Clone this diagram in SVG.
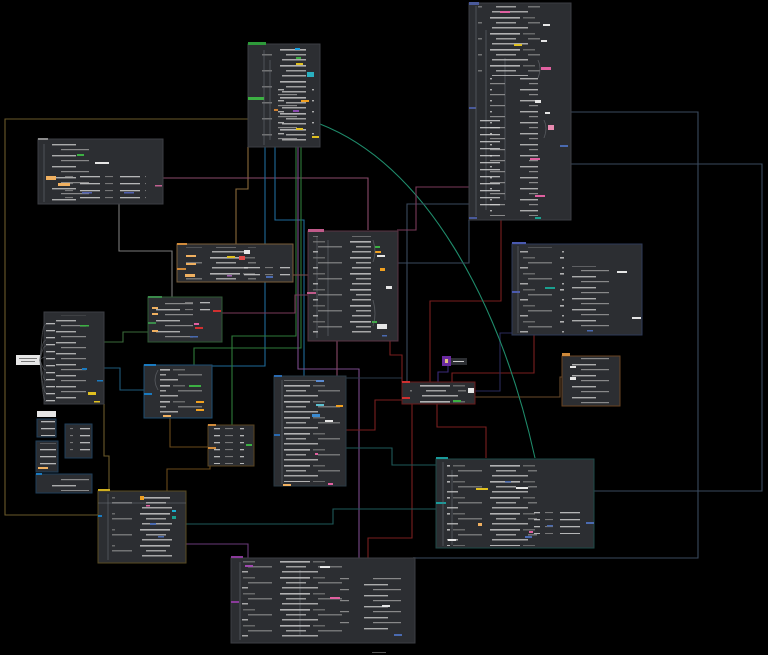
<svg xmlns="http://www.w3.org/2000/svg" width="768" height="655" viewBox="0 0 768 655">
<defs>
<pattern id="t1" patternUnits="userSpaceOnUse" width="70" height="16">
<rect x="0" y="1" width="30" height="1.6" fill="#d6d6d6"/>
<rect x="33" y="1.2" width="12" height="1.2" fill="#8a8a8a"/>
<rect x="6" y="6" width="20" height="1.5" fill="#bdbdbd"/>
<rect x="38" y="6.2" width="24" height="1.2" fill="#9c9c9c"/>
<rect x="2" y="11" width="36" height="1.5" fill="#c8c8c8"/>
</pattern>
<pattern id="t2" patternUnits="userSpaceOnUse" width="52" height="11">
<rect x="0" y="1" width="24" height="1.4" fill="#cfcfcf"/>
<rect x="9" y="6" width="28" height="1.2" fill="#a2a2a2"/>
</pattern>
<pattern id="t3" patternUnits="userSpaceOnUse" width="40" height="7">
<rect x="0" y="1" width="20" height="1.3" fill="#dcdcdc"/>
<rect x="25" y="1" width="8" height="1.1" fill="#8c8c8c"/>
</pattern>
</defs>
<style>
.pn{fill:#2c2e32;stroke:#3c3f44;stroke-width:1}
.c{fill:none;stroke-width:1.1}
.tx{opacity:.78}
.tr{stroke:#6a6d72;stroke-width:.6;fill:none}
.w{fill:#e6e6e6}
</style>
<rect width="768" height="655" fill="#000"/>

<g id="connectors">
<path class="c" stroke="#6b5a2a" d="M248,119 H5 V515 H98"/>
<path class="c" stroke="#8a6a3a" d="M248,147 V189 H236 V244"/>
<path class="c" stroke="#7a7a7a" d="M119,204 V251 H172 V297"/>
<path class="c" stroke="#8a4a6a" d="M163,178 H368 V230"/>
<path class="c" stroke="#8a4a6a" d="M162,170 V200"/>
<path class="c" stroke="#3a6a3a" d="M104,342 H123 V332 H148"/>
<path class="c" stroke="#1f5a7a" d="M104,368 H120 V390 H144"/>
<path class="c" stroke="#1f6a9a" d="M265,147 V366 H212"/>
<path class="c" stroke="#1f6a9a" d="M275,147 V220 H304 V376"/>
<path class="c" stroke="#2f7a3a" d="M296,147 V336 H232 V425"/>
<path class="c" stroke="#2f7a3a" d="M301,147 V348 H194 V365"/>
<path class="c" stroke="#7a4a8a" d="M298,147 V369 H359 V558"/>
<path class="c" stroke="#8a4a6a" d="M337,340 V376"/>
<path class="c" stroke="#7a1f1f" d="M412,404 V538 H368 V558"/>
<path class="c" stroke="#7a1f1f" d="M402,400 H375 V430 H346"/>
<path class="c" stroke="#7a1f1f" d="M390,340 V355 H402 V382"/>
<path class="c" stroke="#7a1f1f" d="M437,404 V427 H486 V458"/>
<path class="c" stroke="#7a1f1f" d="M452,382 V373 H534 V335"/>
<path class="c" stroke="#7a1f1f" d="M501,220 V301 H430 V382"/>
<path class="c" stroke="#2a2a5a" d="M512,333 H500 V391 H475"/>
<path class="c" stroke="#3a2a7a" d="M448,366 V372 H438 V382"/>
<path class="c" stroke="#6a4a2a" d="M475,397 H560 V377 H562"/>
<path class="c" stroke="#1f5a5a" d="M346,448 H392 V465 H436"/>
<path class="c" stroke="#1f5a5a" d="M186,524 H333 V509 H436"/>
<path class="c" stroke="#1f8a6a" d="M320,124 C425,165 500,300 535,458"/>
<path class="c" stroke="#3a4a5e" d="M571,112 H698 V558 H413"/>
<path class="c" stroke="#3a4a5e" d="M571,164 H762 V491 H594"/>
<path class="c" stroke="#3a4a5e" d="M469,204 H407 V382"/>
<path class="c" stroke="#3a4a5e" d="M398,263 H469 V220"/>
<path class="c" stroke="#7a3a5a" d="M469,187 H416 V230 H397"/>
<path class="c" stroke="#7a3a5a" d="M222,313 H295 V295 H308"/>
<path class="c" stroke="#7a4a4a" d="M293,275 H308"/>
<path class="c" stroke="#6a4a1a" d="M170,418 V447 H208"/>
<path class="c" stroke="#6a4a1a" d="M210,466 V469 H167 V491"/>
<path class="c" stroke="#6b5a2a" d="M104,404 V456 H109 V491"/>
<path class="c" stroke="#6a3a7a" d="M186,544 H248 V558"/>
<path class="c" stroke="#2a3a4a" d="M346,378 H402"/>
</g>

<g id="nodeA">
<rect class="pn" x="248" y="44" width="72" height="103"/>
<rect x="248" y="42" width="18" height="3" fill="#2e9a3a"/>
<rect class="tx" x="262" y="48" width="44" height="96" fill="url(#t1)"/>
<rect class="tx" x="278" y="86" width="36" height="56" fill="url(#t2)"/>
<path class="tr" d="M264,50 V145 M270,60 V140"/>
<rect x="248" y="97" width="16" height="3" fill="#3cb043"/>
<rect x="295" y="48" width="5" height="2" fill="#1aa0e0"/>
<rect x="296" y="57" width="5" height="2" fill="#3cb043"/>
<rect x="296" y="63" width="7" height="2" fill="#e0c020"/>
<rect x="307" y="72" width="7" height="5" fill="#2ab0c0"/>
<rect x="301" y="100" width="8" height="2" fill="#f0a020"/>
<rect x="274" y="109" width="4" height="2" fill="#d08030"/>
<rect x="293" y="110" width="6" height="2" fill="#8a4ab0"/>
<rect x="296" y="128" width="7" height="2" fill="#e0c020"/>
<rect x="312" y="136" width="7" height="2" fill="#e0c020"/>
</g>

<g id="nodeB">
<rect class="pn" x="469" y="3" width="102" height="217"/>
<rect x="469" y="2" width="10" height="3" fill="#4a5a9a"/>
<rect x="469" y="107" width="7" height="2" fill="#4a5a9a"/>
<rect x="469" y="217" width="8" height="2" fill="#4a5a9a"/>
<path class="tr" d="M476,6 V216 M486,30 V210 M505,58 V200"/>
<rect class="tx" x="478" y="6" width="62" height="70" fill="url(#t1)"/>
<rect class="tx" x="490" y="76" width="48" height="140" fill="url(#t2)"/>
<rect class="tx" x="480" y="120" width="24" height="90" fill="url(#t3)"/>
<rect x="500" y="11" width="10" height="2" fill="#e060a0"/>
<rect x="514" y="44" width="8" height="2" fill="#e0c020"/>
<rect x="541" y="67" width="10" height="3" fill="#e060a0"/>
<rect x="530" y="158" width="10" height="2" fill="#e060a0"/>
<rect x="535" y="195" width="10" height="2" fill="#e060a0"/>
<rect x="535" y="217" width="6" height="2" fill="#1aa090"/>
<rect x="548" y="125" width="6" height="5" fill="#e88ab0"/>
<rect class="w" x="543" y="24" width="7" height="2"/>
<rect class="w" x="541" y="40" width="6" height="2"/>
<rect class="w" x="535" y="100" width="6" height="3"/>
<rect class="w" x="545" y="112" width="5" height="2"/>
<rect x="560" y="145" width="8" height="2" fill="#4a6ab0"/>
<path class="tr" d="M538,60 Q542,68 538,78 M544,120 Q548,128 544,138"/>
</g>

<g id="nodeC">
<rect class="pn" x="38" y="139" width="125" height="65"/>
<rect x="38" y="138" width="10" height="2" fill="#8a8a8a"/>
<path class="tr" d="M44,144 V202"/>
<rect class="tx" x="46" y="142" width="50" height="60" fill="url(#t2)"/>
<rect class="tx" x="60" y="176" width="86" height="24" fill="url(#t3)"/>
<rect x="77" y="154" width="7" height="2" fill="#3cb043"/>
<rect x="46" y="176" width="10" height="4" fill="#f0b060"/>
<rect x="58" y="183" width="12" height="3" fill="#f0b060"/>
<rect x="82" y="192" width="10" height="1.5" fill="#5060b0"/>
<rect x="124" y="192" width="10" height="1.5" fill="#5060b0"/>
<rect x="155" y="185" width="7" height="1.5" fill="#c06090"/>
<rect class="w" x="95" y="162" width="14" height="2"/>
</g>

<g id="nodeD">
<rect class="pn" x="177" y="244" width="116" height="38" style="stroke:#7a5f3a"/>
<rect x="177" y="243" width="10" height="2" fill="#d08a3a"/>
<rect x="177" y="268" width="9" height="2" fill="#d08a3a"/>
<rect class="tx" x="186" y="247" width="70" height="33" fill="url(#t1)"/>
<rect class="tx" x="244" y="266" width="46" height="14" fill="url(#t3)"/>
<rect x="186" y="255" width="10" height="2" fill="#f0b060"/>
<rect x="186" y="263" width="10" height="2" fill="#f0b060"/>
<rect x="185" y="274" width="10" height="3" fill="#f0b060"/>
<rect x="227" y="256" width="8" height="2" fill="#e0c020"/>
<rect x="239" y="256" width="6" height="4" fill="#e04a4a"/>
<rect x="227" y="275" width="5" height="1.5" fill="#a060b0"/>
<rect class="w" x="244" y="250" width="6" height="4"/>
<rect x="266" y="276" width="7" height="2" fill="#4a6ab0"/>
</g>

<g id="nodeE">
<rect class="pn" x="308" y="231" width="90" height="110" style="stroke:#5a3444"/>
<rect x="308" y="229" width="16" height="3" fill="#c05a8a"/>
<rect x="307" y="292" width="9" height="2" fill="#c05a8a"/>
<path class="tr" d="M317,236 V338 M328,240 V336"/>
<rect class="tx" x="313" y="236" width="58" height="100" fill="url(#t1)"/>
<rect x="375" y="246" width="5" height="2" fill="#3cb043"/>
<rect x="375" y="251" width="6" height="2" fill="#f0a020"/>
<rect class="w" x="377" y="255" width="8" height="2"/>
<rect x="380" y="268" width="5" height="3" fill="#f0a020"/>
<rect x="372" y="321" width="5" height="2" fill="#3cb043"/>
<rect class="w" x="377" y="324" width="10" height="5"/>
<rect class="w" x="386" y="286" width="6" height="3"/>
<rect x="382" y="335" width="5" height="1.5" fill="#4a6ab0"/>
<path class="tr" d="M373,240 Q377,252 373,262 M373,300 Q377,314 373,326"/>
</g>

<g id="nodeF">
<rect class="pn" x="512" y="244" width="130" height="91" style="stroke:#2f3b58"/>
<rect x="512" y="242" width="14" height="2" fill="#4a5ab0"/>
<rect x="512" y="291" width="8" height="2" fill="#4a5ab0"/>
<path class="tr" d="M518,246 V333"/>
<rect class="tx" x="520" y="247" width="44" height="86" fill="url(#t1)"/>
<rect class="tx" x="566" y="266" width="56" height="64" fill="url(#t2)"/>
<rect x="545" y="287" width="10" height="2" fill="#1aa090"/>
<rect class="w" x="617" y="271" width="10" height="2"/>
<rect class="w" x="632" y="317" width="9" height="2"/>
<rect x="587" y="330" width="6" height="1.5" fill="#4a6ab0"/>
</g>

<g id="nodeG">
<rect class="pn" x="148" y="297" width="74" height="45" style="stroke:#2f5a34"/>
<rect x="148" y="296" width="14" height="2" fill="#3a8a4a"/>
<rect x="148" y="322" width="8" height="2" fill="#3a8a4a"/>
<rect class="tx" x="156" y="300" width="40" height="40" fill="url(#t2)"/>
<rect class="tx" x="182" y="302" width="28" height="14" fill="url(#t3)"/>
<rect x="152" y="307" width="6" height="2" fill="#f0b060"/>
<rect x="152" y="313" width="6" height="2" fill="#f0b060"/>
<rect x="152" y="330" width="6" height="2" fill="#f0b060"/>
<rect x="213" y="310" width="8" height="2" fill="#d03030"/>
<rect x="194" y="323" width="5" height="2" fill="#e060a0"/>
<rect x="195" y="327" width="8" height="2" fill="#d03030"/>
<rect x="190" y="336" width="8" height="1.5" fill="#4a6ab0"/>
</g>

<g id="nodeH">
<rect class="pn" x="44" y="312" width="60" height="92"/>
<rect class="w" x="16" y="355" width="24" height="10"/>
<rect x="19" y="358" width="18" height="1" fill="#777"/>
<rect x="21" y="361" width="14" height="1" fill="#777"/>
<path class="tr" d="M40,360 C42,340 42,325 46,324 M40,360 C42,345 43,341 46,340 M40,360 C42,352 43,346 46,346 M40,360 C42,358 43,357 46,357 M40,360 C42,365 43,370 46,370 M40,360 C42,370 43,380 46,381 M40,360 C42,378 43,392 46,393 M40,360 C42,385 43,400 46,402" stroke="#8a8a8a"/>
<rect class="tx" x="56" y="315" width="30" height="86" fill="url(#t2)"/>
<rect class="tx" x="46" y="322" width="9" height="82" fill="url(#t3)"/>
<rect x="80" y="325" width="9" height="1.5" fill="#3cb043"/>
<rect x="82" y="368" width="5" height="2" fill="#1a7ac0"/>
<rect x="97" y="380" width="6" height="1.5" fill="#1a7ac0"/>
<rect x="88" y="392" width="8" height="3" fill="#e0c020"/>
<rect x="94" y="401" width="6" height="1.5" fill="#e0c020"/>
</g>

<g id="nodeI">
<rect class="pn" x="144" y="365" width="68" height="53" style="stroke:#1e4f73"/>
<rect x="144" y="364" width="12" height="2" fill="#1a7ac0"/>
<rect x="144" y="393" width="8" height="2" fill="#1a7ac0"/>
<path class="tr" d="M158,370 Q152,380 158,390"/>
<rect class="tx" x="160" y="367" width="50" height="48" fill="url(#t1)"/>
<rect x="189" y="385" width="12" height="2" fill="#3cb043"/>
<rect x="196" y="401" width="8" height="2" fill="#f0a020"/>
<rect x="196" y="409" width="8" height="2" fill="#f0a020"/>
<rect x="163" y="415" width="8" height="2" fill="#f0b060"/>
</g>

<g id="nodeJ">
<rect class="pn" x="274" y="376" width="72" height="110" style="stroke:#2a3a44"/>
<rect x="274" y="375" width="8" height="2" fill="#2a6ab0"/>
<rect x="274" y="434" width="6" height="2" fill="#2a6ab0"/>
<path class="tr" d="M282,380 V484"/>
<rect class="tx" x="284" y="380" width="56" height="102" fill="url(#t1)"/>
<rect x="316" y="380" width="8" height="2" fill="#5a8ad0"/>
<rect x="312" y="414" width="8" height="3" fill="#3a8ad0"/>
<rect x="316" y="404" width="8" height="2" fill="#5ac0d0"/>
<rect x="336" y="405" width="7" height="2" fill="#f0a020"/>
<rect x="315" y="453" width="3" height="2" fill="#e060a0"/>
<rect x="328" y="483" width="5" height="2" fill="#e060a0"/>
<rect x="283" y="484" width="8" height="2" fill="#f0b060"/>
<rect class="w" x="325" y="420" width="8" height="2"/>
</g>

<g id="nodeK">
<rect class="pn" x="402" y="382" width="73" height="22" style="stroke:#6a1a1a"/>
<rect x="402" y="381" width="8" height="2" fill="#d03030"/>
<rect x="402" y="397" width="8" height="2" fill="#d03030"/>
<rect class="tx" x="410" y="384" width="56" height="19" fill="url(#t1)"/>
<rect x="453" y="400" width="8" height="2" fill="#3cb043"/>
<rect class="w" x="468" y="388" width="6" height="5"/>
</g>

<g id="nodeKp">
<rect x="442" y="356" width="9" height="10" fill="#6a2aa0"/>
<rect x="445" y="359" width="3" height="4" fill="#e0c080"/>
<rect x="451" y="358" width="16" height="7" fill="#2c2e32"/>
<rect x="453" y="361" width="11" height="1" fill="#ccc"/>
</g>

<g id="nodeL">
<rect class="pn" x="562" y="356" width="58" height="50" style="stroke:#6a4522"/>
<rect x="562" y="353" width="8" height="3" fill="#d08a3a"/>
<rect class="tx" x="570" y="358" width="46" height="46" fill="url(#t2)"/>
<rect class="w" x="570" y="366" width="6" height="2"/>
<rect class="w" x="570" y="377" width="6" height="3"/>
</g>

<g id="nodeM">
<rect class="pn" x="208" y="425" width="46" height="41" style="stroke:#5a4520"/>
<rect x="208" y="424" width="8" height="2" fill="#d08a3a"/>
<rect x="208" y="447" width="8" height="2" fill="#d08a3a"/>
<rect class="tx" x="214" y="427" width="30" height="37" fill="url(#t3)"/>
<rect x="246" y="444" width="6" height="2" fill="#3cb043"/>
</g>

<g id="nodeS1">
<rect class="w" x="37" y="411" width="19" height="6"/>
<rect x="37" y="419" width="19" height="18" class="pn" style="stroke:#1e3f5a"/>
<rect class="tx" x="41" y="421" width="14" height="15" fill="url(#t3)"/>
<rect x="36" y="441" width="22" height="31" class="pn" style="stroke:#1e3f5a"/>
<rect class="tx" x="39" y="443" width="17" height="26" fill="url(#t3)"/>
<rect x="38" y="467" width="10" height="2" fill="#f0b060"/>
<rect x="65" y="424" width="27" height="34" class="pn" style="stroke:#1e3f5a"/>
<rect class="tx" x="70" y="426" width="20" height="30" fill="url(#t3)"/>
<rect x="36" y="474" width="56" height="19" class="pn" style="stroke:#1e3f5a"/>
<rect x="36" y="473" width="6" height="2" fill="#1a7ac0"/>
<rect class="tx" x="40" y="476" width="50" height="15" fill="url(#t2)"/>
</g>

<g id="nodeN">
<rect class="pn" x="436" y="459" width="158" height="89" style="stroke:#1f4a48"/>
<rect x="436" y="457" width="12" height="2" fill="#1a9a9a"/>
<rect x="436" y="502" width="10" height="2" fill="#1a9a9a"/>
<path class="tr" d="M443,462 V546 M452,470 V545"/>
<rect class="tx" x="447" y="461" width="90" height="85" fill="url(#t1)"/>
<rect class="tx" x="534" y="510" width="50" height="24" fill="url(#t3)"/>
<rect x="476" y="488" width="12" height="2" fill="#e0c020"/>
<rect x="505" y="481" width="6" height="1.5" fill="#4a6ab0"/>
<rect x="547" y="525" width="6" height="1.5" fill="#4a6ab0"/>
<rect x="586" y="522" width="8" height="2" fill="#4a6ab0"/>
<rect x="529" y="531" width="4" height="2" fill="#e060a0"/>
<rect x="525" y="536" width="7" height="2" fill="#4a6ab0"/>
<rect x="478" y="523" width="4" height="3" fill="#f0b060"/>
<rect class="w" x="516" y="487" width="12" height="2"/>
<rect class="w" x="448" y="539" width="8" height="2"/>
</g>

<g id="nodeO">
<rect class="pn" x="98" y="491" width="88" height="72" style="stroke:#5a4c22"/>
<rect x="98" y="489" width="12" height="2" fill="#d0b020"/>
<path class="tr" d="M108,494 V560 M98,503 H186"/>
<rect class="tx" x="112" y="493" width="60" height="66" fill="url(#t1)"/>
<rect x="140" y="496" width="4" height="4" fill="#f0a020"/>
<rect x="172" y="510" width="4" height="2" fill="#1ab0d0"/>
<rect x="172" y="516" width="4" height="3" fill="#1aa090"/>
<rect x="146" y="505" width="4" height="1.5" fill="#e060a0"/>
<rect x="150" y="523" width="6" height="2" fill="#4a6ab0"/>
<rect x="158" y="536" width="6" height="1.5" fill="#4a6ab0"/>
<rect x="98" y="515" width="4" height="2" fill="#1a7ac0"/>
</g>

<g id="nodeP">
<rect class="pn" x="231" y="558" width="184" height="85"/>
<rect x="231" y="556" width="12" height="2" fill="#8a3a9a"/>
<rect x="231" y="601" width="8" height="2" fill="#8a3a9a"/>
<path class="tr" d="M240,562 V640 M300,570 V635"/>
<rect class="tx" x="242" y="561" width="100" height="80" fill="url(#t1)"/>
<rect class="tx" x="340" y="575" width="64" height="58" fill="url(#t2)"/>
<rect x="245" y="565" width="8" height="2" fill="#a04ab0"/>
<rect x="330" y="597" width="10" height="2" fill="#e060a0"/>
<rect x="394" y="634" width="8" height="2" fill="#4a6ab0"/>
<rect class="w" x="320" y="566" width="10" height="2"/>
<rect class="w" x="382" y="605" width="8" height="2"/>
</g>

<rect x="372" y="652" width="14" height="1" fill="#555"/>
</svg>
